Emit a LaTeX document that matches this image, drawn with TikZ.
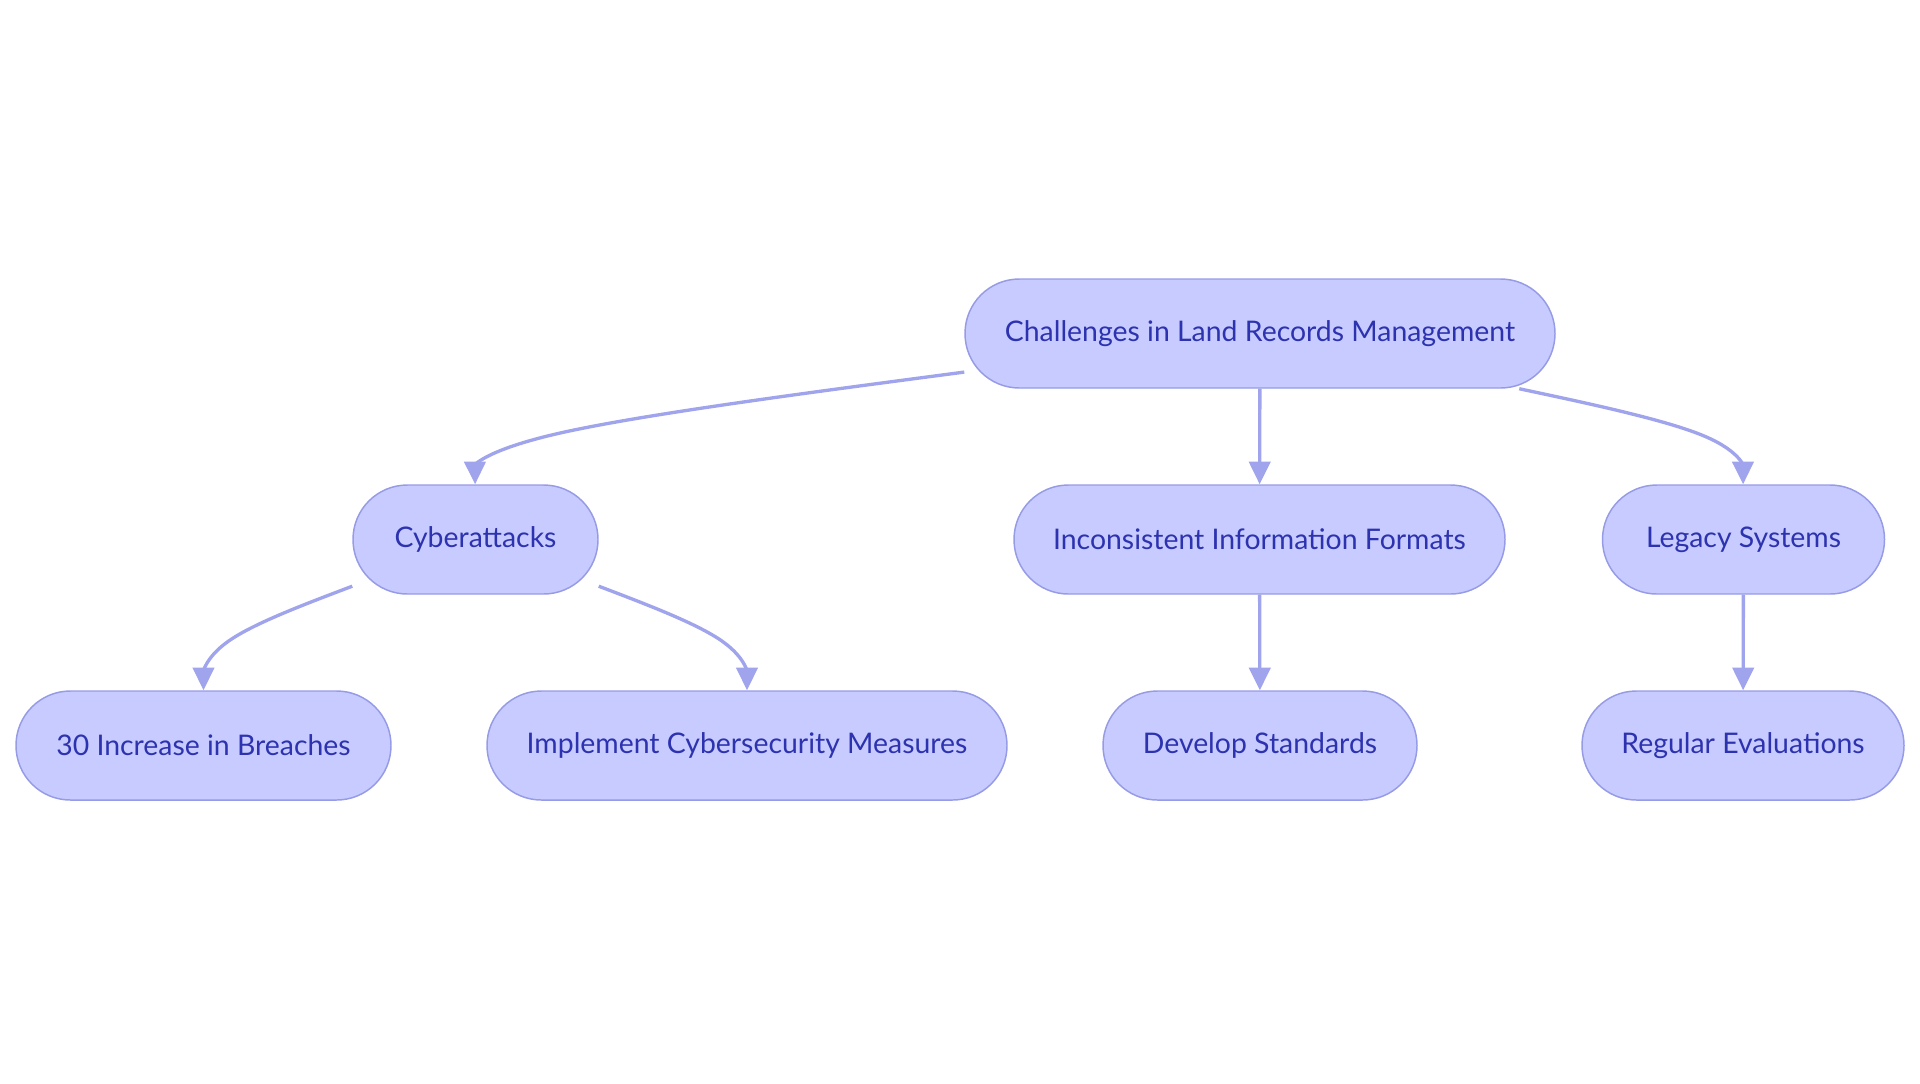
\documentclass[tikz,border=0pt]{standalone}
\usepackage{fontspec}
\setmainfont{Lato}
\usetikzlibrary{arrows.meta}
\definecolor{boxfill}{RGB}{199,203,255}
\definecolor{boxline}{RGB}{150,155,230}
\definecolor{boxtext}{RGB}{45,50,175}
\definecolor{edgecol}{RGB}{160,164,236}

\begin{document}
\begin{tikzpicture}[x=0.75pt, y=-0.75pt,
  box/.style={draw=boxline, fill=boxfill, line width=1.1pt, rounded corners=40.8pt,
    minimum height=81.75pt, inner sep=0pt, text=boxtext, font=\fontsize{21.3}{25}\selectfont},
  edge/.style={draw=edgecol, line width=2.5pt, -{Triangle[length=17pt,width=16pt]}}]
\useasboundingbox (0,0) rectangle (1920,1083);
% top
\node[box, minimum width=442.5pt] (root) at (1260,333.5) {Challenges in Land Records Management};
% second row
\node[box, minimum width=183.75pt] (cyber) at (475.5,539.5) {Cyberattacks};
\node[box, minimum width=368.25pt] (incons) at (1259.5,539.5) {Inconsistent Information Formats};
\node[box, minimum width=211.5pt] (legacy) at (1743.5,539.5) {Legacy Systems};
% third row
\node[box, minimum width=281.25pt] (breach) at (203.5,745.5) {30 Increase in Breaches};
\node[box, minimum width=390pt] (measures) at (747,745.5) {Implement Cybersecurity Measures};
\node[box, minimum width=235.5pt] (standards) at (1260,745.5) {Develop Standards};
\node[box, minimum width=241.5pt] (evals) at (1743,745.5) {Regular Evaluations};
% connectors
\draw[edge] (root) .. controls (801.7,393.5) and (638.3,415) .. (556.7,433.8)
  .. controls (475,452.7) and (475,468.8) .. (cyber);
\draw[edge] (root) -- (incons);
\draw[edge] (root) .. controls (1592.1,404.2) and (1667.5,420.3) .. (1705.3,436.5)
  .. controls (1743,452.7) and (1743,468.8) .. (legacy);
\draw[edge] (cyber) .. controls (303.2,604.8) and (253.3,623.6) .. (228.4,641.2)
  .. controls (203.5,658.7) and (203.5,674.8) .. (breach);
\draw[edge] (cyber) .. controls (647.7,604.8) and (697.3,623.7) .. (722.2,641.2)
  .. controls (747,658.7) and (747,674.8) .. (measures);
\draw[edge] (incons) -- (standards);
\draw[edge] (legacy) -- (evals);
\end{tikzpicture}
\end{document}
